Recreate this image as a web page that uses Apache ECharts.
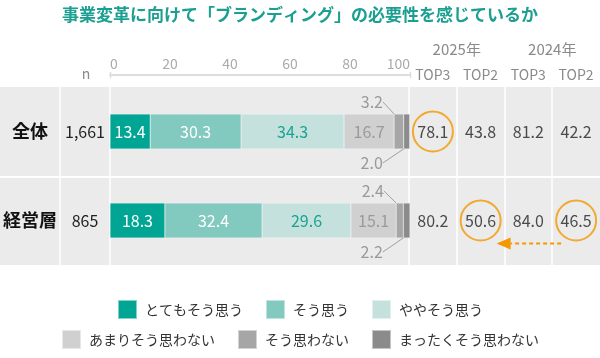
<!DOCTYPE html>
<html><head><meta charset="utf-8">
<script src="https://cdn.jsdelivr.net/npm/echarts@6/dist/echarts.min.js"></script>
<style>html,body{margin:0;padding:0;background:#fff}#c{width:600px;height:358px}</style>
</head><body><div id="c"></div>
<script>
const categories = ['全体', '経営層'];
const nValues = ['1,661', '865'];
const seriesNames = ['とてもそう思う', 'そう思う', 'ややそう思う', 'あまりそう思わない', 'そう思わない', 'まったくそう思わない'];
const stronglyAgree = [13.4, 18.3];
const agree = [30.3, 32.4];
const somewhatAgree = [34.3, 29.6];
const notReally = [16.7, 15.1];
const disagree = [3.2, 2.4];
const stronglyDisagree = [2.0, 2.2];
const top3_2025 = [78.1, 80.2];
const top2_2025 = [43.8, 50.6];
const top3_2024 = [81.2, 84.0];
const top2_2024 = [42.2, 46.5];
const tableHeaders = ['TOP3', 'TOP2', 'TOP3', 'TOP2'];
const yearHeaders = ['2025年', '2024年'];
const highlighted = [[0, 0], [1, 1], [3, 1]]; // [column, row]
const axisMin = 0, axisMax = 100, axisStep = 20;

const FONT = '"Noto Sans CJK JP", "Noto Sans", sans-serif';
const colors = ['#00a594', '#82c9bf', '#c5e1dd', '#d0d0d0', '#a6a6a6', '#8b8b8b'];
const labelColors = ['#ffffff', '#ffffff', '#1aa393', '#9a9a9a', '#9a9a9a', '#9a9a9a'];
const ORANGE = '#f39800';

const segData = [stronglyAgree, agree, somewhatAgree, notReally, disagree, stronglyDisagree];
const tableCols = [top3_2025, top2_2025, top3_2024, top2_2024];

const chart = echarts.init(document.getElementById('c'), null, {renderer: 'canvas'});

const barSeries = segData.map((arr, si) => {
  const s = {
    name: seriesNames[si], type: 'bar', stack: 'total', xAxisIndex: 0, yAxisIndex: 0,
    barWidth: 35, data: arr,
    itemStyle: {color: colors[si], borderColor: 'rgba(255,255,255,0.5)', borderWidth: 0.5},
    label: {show: true, position: 'inside', color: labelColors[si], fontSize: 16, fontFamily: FONT,
      formatter: p => p.value.toFixed(1)},
    emphasis: {disabled: true}, z: 3
  };
  if (si === 4) {
    s.label = Object.assign({}, s.label, {position: 'top', distance: 4});
    s.labelLayout = {dx: -27, dy: 0};
    s.labelLine = {show: true, lineStyle: {color: '#a0a0a0', width: 1}};
  }
  if (si === 5) {
    s.label = Object.assign({}, s.label, {position: 'bottom', distance: 4});
    s.labelLayout = {dx: -35, dy: 2};
    s.labelLine = {show: true, lineStyle: {color: '#a0a0a0', width: 1}};
  }
  return s;
});

const tableData = [];
tableCols.forEach((col, ci) => col.forEach((v, ri) => tableData.push([ci, ri, v])));

const option = {
  animation: false,
  textStyle: {fontFamily: FONT},
  title: {
    text: '事業変革に向けて「ブランディング」の必要性を感じているか',
    left: 'center', top: 1,
    textStyle: {color: '#1a9f90', fontSize: 17, fontWeight: 'bold', fontFamily: FONT}
  },
  legend: [
    {data: seriesNames.slice(0, 3), top: 294, left: 'center', icon: 'rect', itemWidth: 19, itemHeight: 19, itemGap: 22,
      textStyle: {fontSize: 14, color: '#333', fontFamily: FONT, padding: [0, 0, 0, 3]}, selectedMode: false},
    {data: seriesNames.slice(3), top: 324, left: 'center', icon: 'rect', itemWidth: 19, itemHeight: 19, itemGap: 22,
      textStyle: {fontSize: 14, color: '#333', fontFamily: FONT, padding: [0, 0, 0, 3]}, selectedMode: false}
  ],
  grid: [
    {left: 110, right: 190, top: 87, bottom: 93},
    {left: 409, right: 0, top: 87, bottom: 93}
  ],
  xAxis: [
    {type: 'value', gridIndex: 0, position: 'top', offset: 12, min: axisMin, max: axisMax, interval: axisStep,
      axisLine: {show: true, lineStyle: {color: '#dddddd', width: 2}},
      axisTick: {show: false}, splitLine: {show: false},
      axisLabel: {color: '#aaaaaa', fontSize: 14, margin: 4, alignMinLabel: 'left', alignMaxLabel: 'right', fontFamily: FONT}},
    {type: 'category', gridIndex: 1, position: 'top', data: tableHeaders,
      axisLine: {show: false}, axisTick: {show: false},
      axisLabel: {color: '#8a8a8a', fontSize: 14, margin: 5, fontFamily: FONT}}
  ],
  yAxis: [
    {type: 'category', gridIndex: 0, data: categories, inverse: true,
      axisLine: {show: false}, axisTick: {show: false},
      axisLabel: {margin: 0, formatter: (v, i) => `{a|${v}}{b|${nValues[i]}}`,
        rich: {
          a: {width: 60, align: 'center', fontSize: 18, fontWeight: 'bold', color: '#111', fontFamily: FONT},
          b: {width: 50, align: 'center', fontSize: 16, color: '#222', fontFamily: FONT}
        }}},
    {type: 'category', gridIndex: 1, data: categories, inverse: true, show: false}
  ],
  series: barSeries.concat([
    {type: 'scatter', xAxisIndex: 1, yAxisIndex: 1, data: tableData, symbolSize: 0,
      label: {show: true, position: 'inside', color: '#222', fontSize: 16, fontFamily: FONT,
        formatter: p => p.value[2].toFixed(1)}, emphasis: {disabled: true}, z: 4},
    {type: 'scatter', xAxisIndex: 1, yAxisIndex: 1, data: highlighted, symbol: 'circle', symbolSize: 40,
      itemStyle: {color: 'rgba(0,0,0,0)', borderColor: ORANGE, borderWidth: 2},
      emphasis: {disabled: true}, z: 5, silent: true}
  ])
};
chart.setOption(option);

// table background & header text (layout)
const gfx = [];
gfx.push({type: 'rect', shape: {x: 0, y: 87, width: 600, height: 89}, style: {fill: '#ebebeb'}, z: -10});
gfx.push({type: 'rect', shape: {x: 0, y: 178, width: 600, height: 87}, style: {fill: '#ebebeb'}, z: -10});
[60, 110, 409].concat([1, 2, 3].map(c => Math.round((chart.convertToPixel({xAxisIndex: 1}, c) + chart.convertToPixel({xAxisIndex: 1}, c - 1)) / 2))).forEach(x => {
  gfx.push({type: 'line', shape: {x1: x, y1: 87, x2: x, y2: 265}, style: {stroke: '#ffffff', lineWidth: 1.5}, z: -9});
});
// end ticks of the scale axis
[axisMin, axisMax].forEach(v => {
  const x = Math.round(chart.convertToPixel({xAxisIndex: 0}, v)) + 0.5;
  gfx.push({type: 'line', shape: {x1: x, y1: 72, x2: x, y2: 78}, style: {stroke: '#dddddd', lineWidth: 1.5}});
});
gfx.push({type: 'text', x: 86, y: 74, style: {text: 'n', fill: '#8a8a8a', fontSize: 14, fontFamily: FONT, align: 'center', verticalAlign: 'middle'}});
yearHeaders.forEach((t, i) => {
  const x0 = chart.convertToPixel({xAxisIndex: 1}, i * 2);
  const x1 = chart.convertToPixel({xAxisIndex: 1}, i * 2 + 1);
  gfx.push({type: 'text', x: (x0 + x1) / 2, y: 49, style: {text: t, fill: '#8a8a8a', fontSize: 15, fontFamily: FONT, align: 'center', verticalAlign: 'middle'}});
});
// dashed arrow from 2024 TOP2 to 2025 TOP2 in row 2
const pFrom = chart.convertToPixel({gridIndex: 1}, [3, 1]);
const pTo = chart.convertToPixel({gridIndex: 1}, [1, 1]);
const ay = pFrom[1] + 23;
const tipX = pTo[0] + 16;
gfx.push({type: 'line', shape: {x1: pFrom[0] - 15, y1: ay, x2: tipX + 14, y2: ay},
  style: {stroke: ORANGE, lineWidth: 2, lineDash: [4, 3]}, z: 10});
gfx.push({type: 'polygon', shape: {points: [[tipX, ay], [tipX + 14, ay - 6], [tipX + 14, ay + 6]]},
  style: {fill: ORANGE}, z: 10});
chart.setOption({graphic: {elements: gfx}});
</script></body></html>
